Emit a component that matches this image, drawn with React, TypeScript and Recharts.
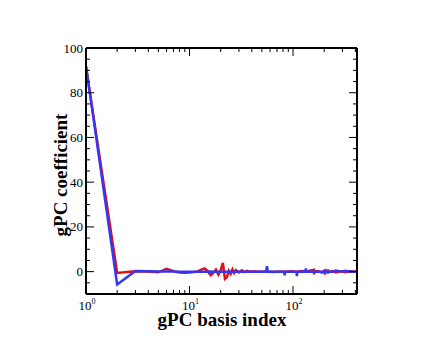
import React from 'react';
import { LineChart, Line, XAxis, YAxis, Label } from 'recharts';

// basis index (log axis) and the two coefficient series
const basisIndex = [
  1, 2, 3, 4, 5, 6, 7, 8, 9, 10, 11, 12, 13, 14, 15, 16, 17, 18, 19, 20,
  21, 22, 23, 24, 25, 26, 27, 28, 30, 32, 34, 36, 38, 42, 48, 55, 56, 57, 65, 75,
  82, 83, 84, 95, 108, 109, 110, 120, 132, 133, 134, 145, 159, 160, 161, 175, 190, 202, 203, 204,
  216, 217, 218, 240, 260, 290, 320, 360, 415
];
const redCoeff = [
  91.5, -0.6, 0.2, 0.1, -0.3, 1.3, 0.2, -0.4, -0.5, -0.4, -0.2, 0.1, 0.9, 1.4, 0.2, -1.6, -0.6, 0.9, -1.3, 0.6,
  3.9, -3.2, -2.4, 0.4, -1.0, 1.0, -0.6, 0.7, -0.4, 0.6, -0.2, 0.4, 0.0, 0.1, -0.1, 0, 0, 0, -0.2, 0.1,
  0, 0, 0, 0.2, 0, 0, 0, 0.3, 0, 0, 0, 0.4, 0.8, -1.2, 0.3, 0.2, -0.4, 0.5, -1.4, 0.4,
  0.2, 1.0, -0.3, 0.3, -0.4, 0.2, -0.3, 0.2, 0
];
const blueCoeff = [
  92, -5.8, 0.3, 0.2, 0.1, 0.1, 0.1, 0, 0, 0, 0, 0, 0, 0, 0, 0.1, 0, 0, 0, 0,
  0, 0, 0, 0, 0, 0, 0, 0, 0, 0, 0, 0, 0, 0, 0, 0, 2.4, 0, 0, 0,
  0, -1.6, 0, 0, 0, -2.0, 0, 0, 0, 1.5, 0, 0, 0, 0.5, 0, 0, 0, 0, 0.8, 0,
  0, -0.6, 0, 0, 0.5, 0, 0.4, 0, 0
];

const xTicks = [1, 2, 3, 4, 5, 6, 7, 8, 9, 10, 20, 30, 40, 50, 60, 70, 80, 90, 100, 200, 300, 400];
const xMajor = [1, 10, 100];
const yTicks = [-10, -5, 0, 5, 10, 15, 20, 25, 30, 35, 40, 45, 50, 55, 60, 65, 70, 75, 80, 85, 90, 95, 100];

const data = basisIndex.map((n, i) => ({ n, red: redCoeff[i], blue: blueCoeff[i] }));

const serif = 'Liberation Serif, DejaVu Serif, serif';

const XTick = ({ x, y, payload, side }: any) => {
  const v = payload.value;
  const major = xMajor.includes(v);
  const len = major ? 8 : 4;
  const dir = side === 'top' ? 1 : -1;
  return (
    <g>
      <line x1={x} y1={y} x2={x} y2={y + dir * len} stroke="#000" strokeWidth={1} />
      {major && side === 'bottom' && (
        <text x={x + 1} y={y + 16} textAnchor="middle" fontFamily={serif} fontSize={13} fill="#000">
          10<tspan dy={-6} fontSize={8}>{Math.round(Math.log10(v))}</tspan>
        </text>
      )}
    </g>
  );
};

const YTick = ({ x, y, payload, side }: any) => {
  const v = payload.value;
  const major = v % 20 === 0;
  const len = major ? 8 : 4;
  const dir = side === 'left' ? 1 : -1;
  return (
    <g>
      <line x1={x} y1={y} x2={x + dir * len} y2={y} stroke="#000" strokeWidth={1} />
      {major && side === 'left' && (
        <text x={x - 3} y={y + 4.5} textAnchor="end" fontFamily={serif} fontSize={13} fill="#000">
          {v}
        </text>
      )}
    </g>
  );
};

const App: React.FC = () => {
  return (
    <div style={{ position: 'absolute', left: 0, top: 0, width: 440, height: 340, background: '#fff' }}>
      <LineChart width={440} height={340} data={data} margin={{ top: 0, right: 0, bottom: 0, left: 0 }}>
        <XAxis
          xAxisId="b"
          dataKey="n"
          type="number"
          scale="log"
          domain={[1, 415]}
          allowDataOverflow
          ticks={xTicks}
          interval={0}
          height={46}
          tickSize={0}
          tickMargin={0}
          tickLine={false}
          axisLine={{ stroke: '#000', strokeWidth: 2 }}
          tick={(p: any) => <XTick {...p} side="bottom" />}
        >
          <Label
            content={() => (
              <text x={222} y={326} textAnchor="middle" fontFamily={serif} fontWeight="bold" fontSize={19} fill="#000">
                gPC basis index
              </text>
            )}
          />
        </XAxis>
        <XAxis
          xAxisId="t"
          orientation="top"
          dataKey="n"
          type="number"
          scale="log"
          domain={[1, 415]}
          allowDataOverflow
          ticks={xTicks}
          interval={0}
          height={48}
          tickSize={0}
          tickMargin={0}
          tickLine={false}
          axisLine={{ stroke: '#000', strokeWidth: 2 }}
          tick={(p: any) => <XTick {...p} side="top" />}
        />
        <YAxis
          yAxisId="l"
          type="number"
          domain={[-10, 100]}
          allowDataOverflow
          ticks={yTicks}
          interval={0}
          width={86}
          tickSize={0}
          tickMargin={0}
          tickLine={false}
          axisLine={{ stroke: '#000', strokeWidth: 2 }}
          tick={(p: any) => <YTick {...p} side="left" />}
        >
          <Label
            content={() => (
              <text
                x={67}
                y={175}
                textAnchor="middle"
                transform="rotate(-90 67 175)"
                fontFamily={serif}
                fontWeight="bold"
                fontSize={19}
                fill="#000"
              >
                gPC coefficient
              </text>
            )}
          />
        </YAxis>
        <YAxis
          yAxisId="r"
          orientation="right"
          type="number"
          domain={[-10, 100]}
          allowDataOverflow
          ticks={yTicks}
          interval={0}
          width={83}
          tickSize={0}
          tickMargin={0}
          tickLine={false}
          axisLine={{ stroke: '#000', strokeWidth: 2 }}
          tick={(p: any) => <YTick {...p} side="right" />}
        />
        <Line
          xAxisId="b"
          yAxisId="l"
          dataKey="red"
          stroke="#e01010"
          strokeWidth={2.5}
          dot={false}
          type="linear"
          isAnimationActive={false}
        />
        <Line
          xAxisId="b"
          yAxisId="l"
          dataKey="blue"
          stroke="#3535f5"
          strokeWidth={2.5}
          dot={false}
          type="linear"
          isAnimationActive={false}
        />
      </LineChart>
    </div>
  );
};

export default App;
